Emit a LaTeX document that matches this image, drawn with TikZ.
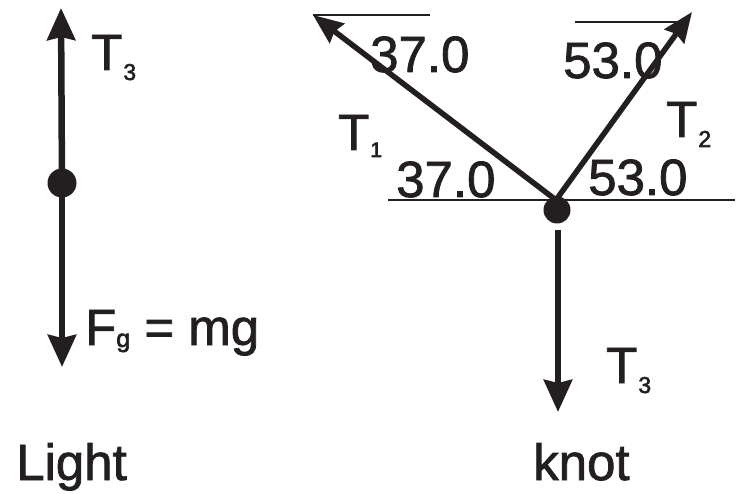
\documentclass[tikz,border=0pt]{standalone}
\usepackage{fontspec}
\setmainfont[FakeBold=1.5]{Liberation Sans}
\newfontfamily\subfam[FakeBold=2.5]{Liberation Sans}
\usetikzlibrary{arrows.meta}
\definecolor{ink}{HTML}{231F20}
\newcommand{\bigfont}{\fontsize{51}{51}\selectfont}
\newcommand{\subfont}{\subfam\fontsize{23}{23}\selectfont}
\newcommand{\tsub}[1]{T\kern1pt\raisebox{-10pt}{\subfont #1}}
\begin{document}
\begin{tikzpicture}[x=1pt,y=-1pt,
  lab/.style={anchor=base west,inner sep=0pt,text=ink,font=\bigfont},
  forcearrow/.style={draw=ink,line width=6.5pt,-{Stealth[length=32pt,width=28pt,inset=3pt]}},
  tensarrow/.style={draw=ink,line width=5.5pt,-{Stealth[length=30pt,width=24pt,inset=3pt]}},
  thinline/.style={draw=ink,line width=2pt},
  dotnode/.style={circle,fill=ink,inner sep=0pt}]
\useasboundingbox (0,0) rectangle (738,494);
% left body
\node[dotnode,minimum size=29pt] (ldot) at (62,183) {};
\coordinate (ltop) at (61,8);
\coordinate (lbot) at (62,367);
\draw[forcearrow] (ldot.center) -- (ltop);
\draw[forcearrow] (ldot.center) -- (lbot);
\node[lab] (lt3) at (91,70) {\tsub{3}};
\node[lab] (fg) at (85,345) {F\raisebox{-2pt}{\subfam\fontsize{25}{25}\selectfont g} = mg};
\node[lab] (light) at (16,480) {Light};
% knot
\coordinate (hl) at (388,200);
\coordinate (hr) at (735,200);
\draw[thinline] (hl) -- (hr);
\node[dotnode,minimum size=27pt] (knot) at (557,210) {};
\coordinate (k) at (556,200);
\coordinate (t1tip) at (313,15);
\coordinate (t1end) at (430,15);
\coordinate (t2tip) at (692,12);
\coordinate (t2beg) at (575,22);
\coordinate (t2end) at (680,22);
\draw[thinline] (t1tip) -- (t1end);
\draw[thinline] (t2beg) -- (t2end);
\draw[tensarrow] (k) -- (t1tip);
\draw[tensarrow] (k) -- (t2tip);
\coordinate (t3beg) at (558,230);
\coordinate (t3tip) at (558,412);
\draw[forcearrow] (t3beg) -- (t3tip);
\node[lab] (a1) at (370,72) {37.0};
\node[lab] (a2) at (396,197) {37.0};
\node[lab] (a3) at (563,78) {53.0};
\node[lab] (a4) at (588,195) {53.0};
\node[lab] (t1) at (338,150) {T\kern1pt\raisebox{-7pt}{\subfam\fontsize{21}{21}\selectfont 1}};
\node[lab] (t2) at (666,137) {\tsub{2}};
\node[lab] (rt3) at (606,383) {\tsub{3}};
\node[lab] (knotlab) at (533,480) {knot};
\end{tikzpicture}
\end{document}
